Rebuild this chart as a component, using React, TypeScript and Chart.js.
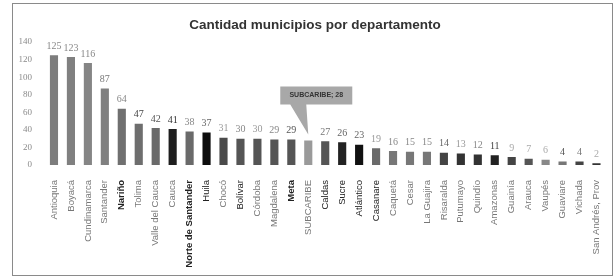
import React, { useEffect, useRef } from "react";
import { Chart, registerables } from "chart.js";

Chart.register(...registerables);

const categories = [
  "Antioquia", "Boyacá", "Cundinamarca", "Santander", "Nariño", "Tolima",
  "Valle del Cauca", "Cauca", "Norte de Santander", "Huila", "Chocó", "Bolívar",
  "Córdoba", "Magdalena", "Meta", "SUBCARIBE", "Caldas", "Sucre", "Atlántico",
  "Casanare", "Caquetá", "Cesar", "La Guajira", "Risaralda", "Putumayo",
  "Quindío", "Amazonas", "Guainía", "Arauca", "Vaupés", "Guaviare", "Vichada",
  "San Andrés, Prov",
];

const municipios = [
  125, 123, 116, 87, 64, 47, 42, 41, 38, 37, 31, 30, 30, 29, 29, 28, 27, 26, 23,
  19, 16, 15, 15, 14, 13, 12, 11, 9, 7, 6, 4, 4, 2,
];

const yTicks = [0, 20, 40, 60, 80, 100, 120, 140];

const chartTitle = "Cantidad municipios por departamento";
const calloutIndex = 15;

const barColors = [
  "#7d7d7d", "#808080", "#858585", "#808080", "#707070", "#6e6e6e", "#6a6a6a",
  "#1e1e1e", "#6a6a6a", "#0d0d0d", "#4a4a4a", "#555555", "#555555", "#555555",
  "#555555", "#9a9a9a", "#555555", "#222222", "#111111", "#6a6a6a", "#777777",
  "#777777", "#777777", "#444444", "#333333", "#333333", "#222222", "#444444",
  "#555555", "#888888", "#777777", "#444444", "#333333",
];

const valueLabelColors = [
  "#888888", "#888888", "#888888", "#777777", "#888888", "#444444", "#555555",
  "#333333", "#888888", "#666666", "#999999", "#888888", "#999999", "#888888",
  "#555555", "#555555", "#777777", "#666666", "#666666", "#999999", "#888888",
  "#888888", "#888888", "#666666", "#999999", "#888888", "#444444", "#aaaaaa",
  "#aaaaaa", "#aaaaaa", "#555555", "#777777", "#aaaaaa",
];

const boldLabels = ["Nariño", "Norte de Santander", "Meta"];
const darkLabels = ["Bolívar", "Caldas", "Sucre", "Atlántico", "Casanare", "Huila"];

const decorPlugin = {
  id: "decor",
  beforeDraw(chart: any) {
    const { ctx, width, height } = chart;
    ctx.save();
    ctx.fillStyle = "#ffffff";
    ctx.fillRect(0, 0, width, height);
    ctx.restore();
  },
  afterDraw(chart: any) {
    const { ctx } = chart;
    ctx.save();
    // frame
    ctx.strokeStyle = "#8a8a8a";
    ctx.lineWidth = 1;
    ctx.strokeRect(12.5, 3.5, 600, 272);
    // title
    ctx.fillStyle = "#333333";
    ctx.font = "bold 13.5px 'Liberation Sans', Arial, sans-serif";
    ctx.textAlign = "center";
    ctx.textBaseline = "middle";
    ctx.fillText(chartTitle, 315, 25);

    // value labels
    const meta = chart.getDatasetMeta(0);
    ctx.font = "10px 'Liberation Serif', serif";
    ctx.textAlign = "center";
    ctx.textBaseline = "bottom";
    meta.data.forEach((bar: any, i: number) => {
      if (i === calloutIndex) return;
      ctx.fillStyle = valueLabelColors[i];
      ctx.fillText(String(municipios[i]), bar.x, bar.y - 4);
    });

    // callout
    const cb = meta.data[calloutIndex];
    const bl = cb.x - 28;
    const br = cb.x + 44;
    const bt = cb.y - 54;
    const bb = cb.y - 36;
    ctx.fillStyle = "#a8a8a8";
    ctx.beginPath();
    ctx.moveTo(bl, bt);
    ctx.lineTo(br, bt);
    ctx.lineTo(br, bb);
    ctx.lineTo(bl + 26, bb);
    ctx.lineTo(cb.x, cb.y - 6);
    ctx.lineTo(bl + 10, bb);
    ctx.lineTo(bl, bb);
    ctx.closePath();
    ctx.fill();
    ctx.fillStyle = "#333333";
    ctx.font = "bold 7px 'Liberation Sans', Arial, sans-serif";
    ctx.textAlign = "center";
    ctx.textBaseline = "middle";
    ctx.fillText(
      categories[calloutIndex] + "; " + municipios[calloutIndex],
      (bl + br) / 2,
      (bt + bb) / 2
    );
    ctx.restore();
  },
};

export default function App() {
  const ref = useRef<HTMLCanvasElement | null>(null);

  useEffect(() => {
    if (!ref.current) return;
    const chart = new Chart(ref.current, {
      type: "bar",
      data: {
        labels: categories,
        datasets: [
          {
            data: municipios,
            backgroundColor: barColors,
            barPercentage: 0.48,
            categoryPercentage: 1,
          },
        ],
      },
      options: {
        responsive: false,
        animation: false,
        layout: { padding: { left: 12, right: 8.5, top: 42, bottom: 0 } },
        plugins: {
          legend: { display: false },
          tooltip: { enabled: false },
          title: { display: false },
        },
        scales: {
          x: {
            grid: { display: false },
            border: { display: false },
            ticks: {
              autoSkip: false,
              minRotation: 90,
              maxRotation: 90,
              padding: 7,
              color: (c: any) =>
                boldLabels.includes(categories[c.index]) ||
                darkLabels.includes(categories[c.index])
                  ? "#222222"
                  : "#777777",
              font: (c: any) => ({
                family: "'Liberation Sans', Arial, sans-serif",
                size: 9.5,
                weight: boldLabels.includes(categories[c.index]) ? "bold" : "normal",
              }),
            },
            afterFit: (s: any) => {
              s.height = 113;
            },
          },
          y: {
            min: yTicks[0],
            max: yTicks[yTicks.length - 1],
            grid: { display: false, drawTicks: false },
            border: { display: false },
            afterBuildTicks: (s: any) => {
              s.ticks = yTicks.map((v) => ({ value: v }));
            },
            ticks: {
              padding: 13.5,
              color: "#8a8a8a",
              font: { family: "'Liberation Serif', serif", size: 9 },
            },
            afterFit: (s: any) => {
              s.width = 33.5;
            },
          },
        },
      },
      plugins: [decorPlugin],
    });
    return () => chart.destroy();
  }, []);

  return (
    <canvas
      ref={ref}
      width={615}
      height={278}
      style={{ position: "absolute", left: 0, top: 0, display: "block" }}
    />
  );
}
